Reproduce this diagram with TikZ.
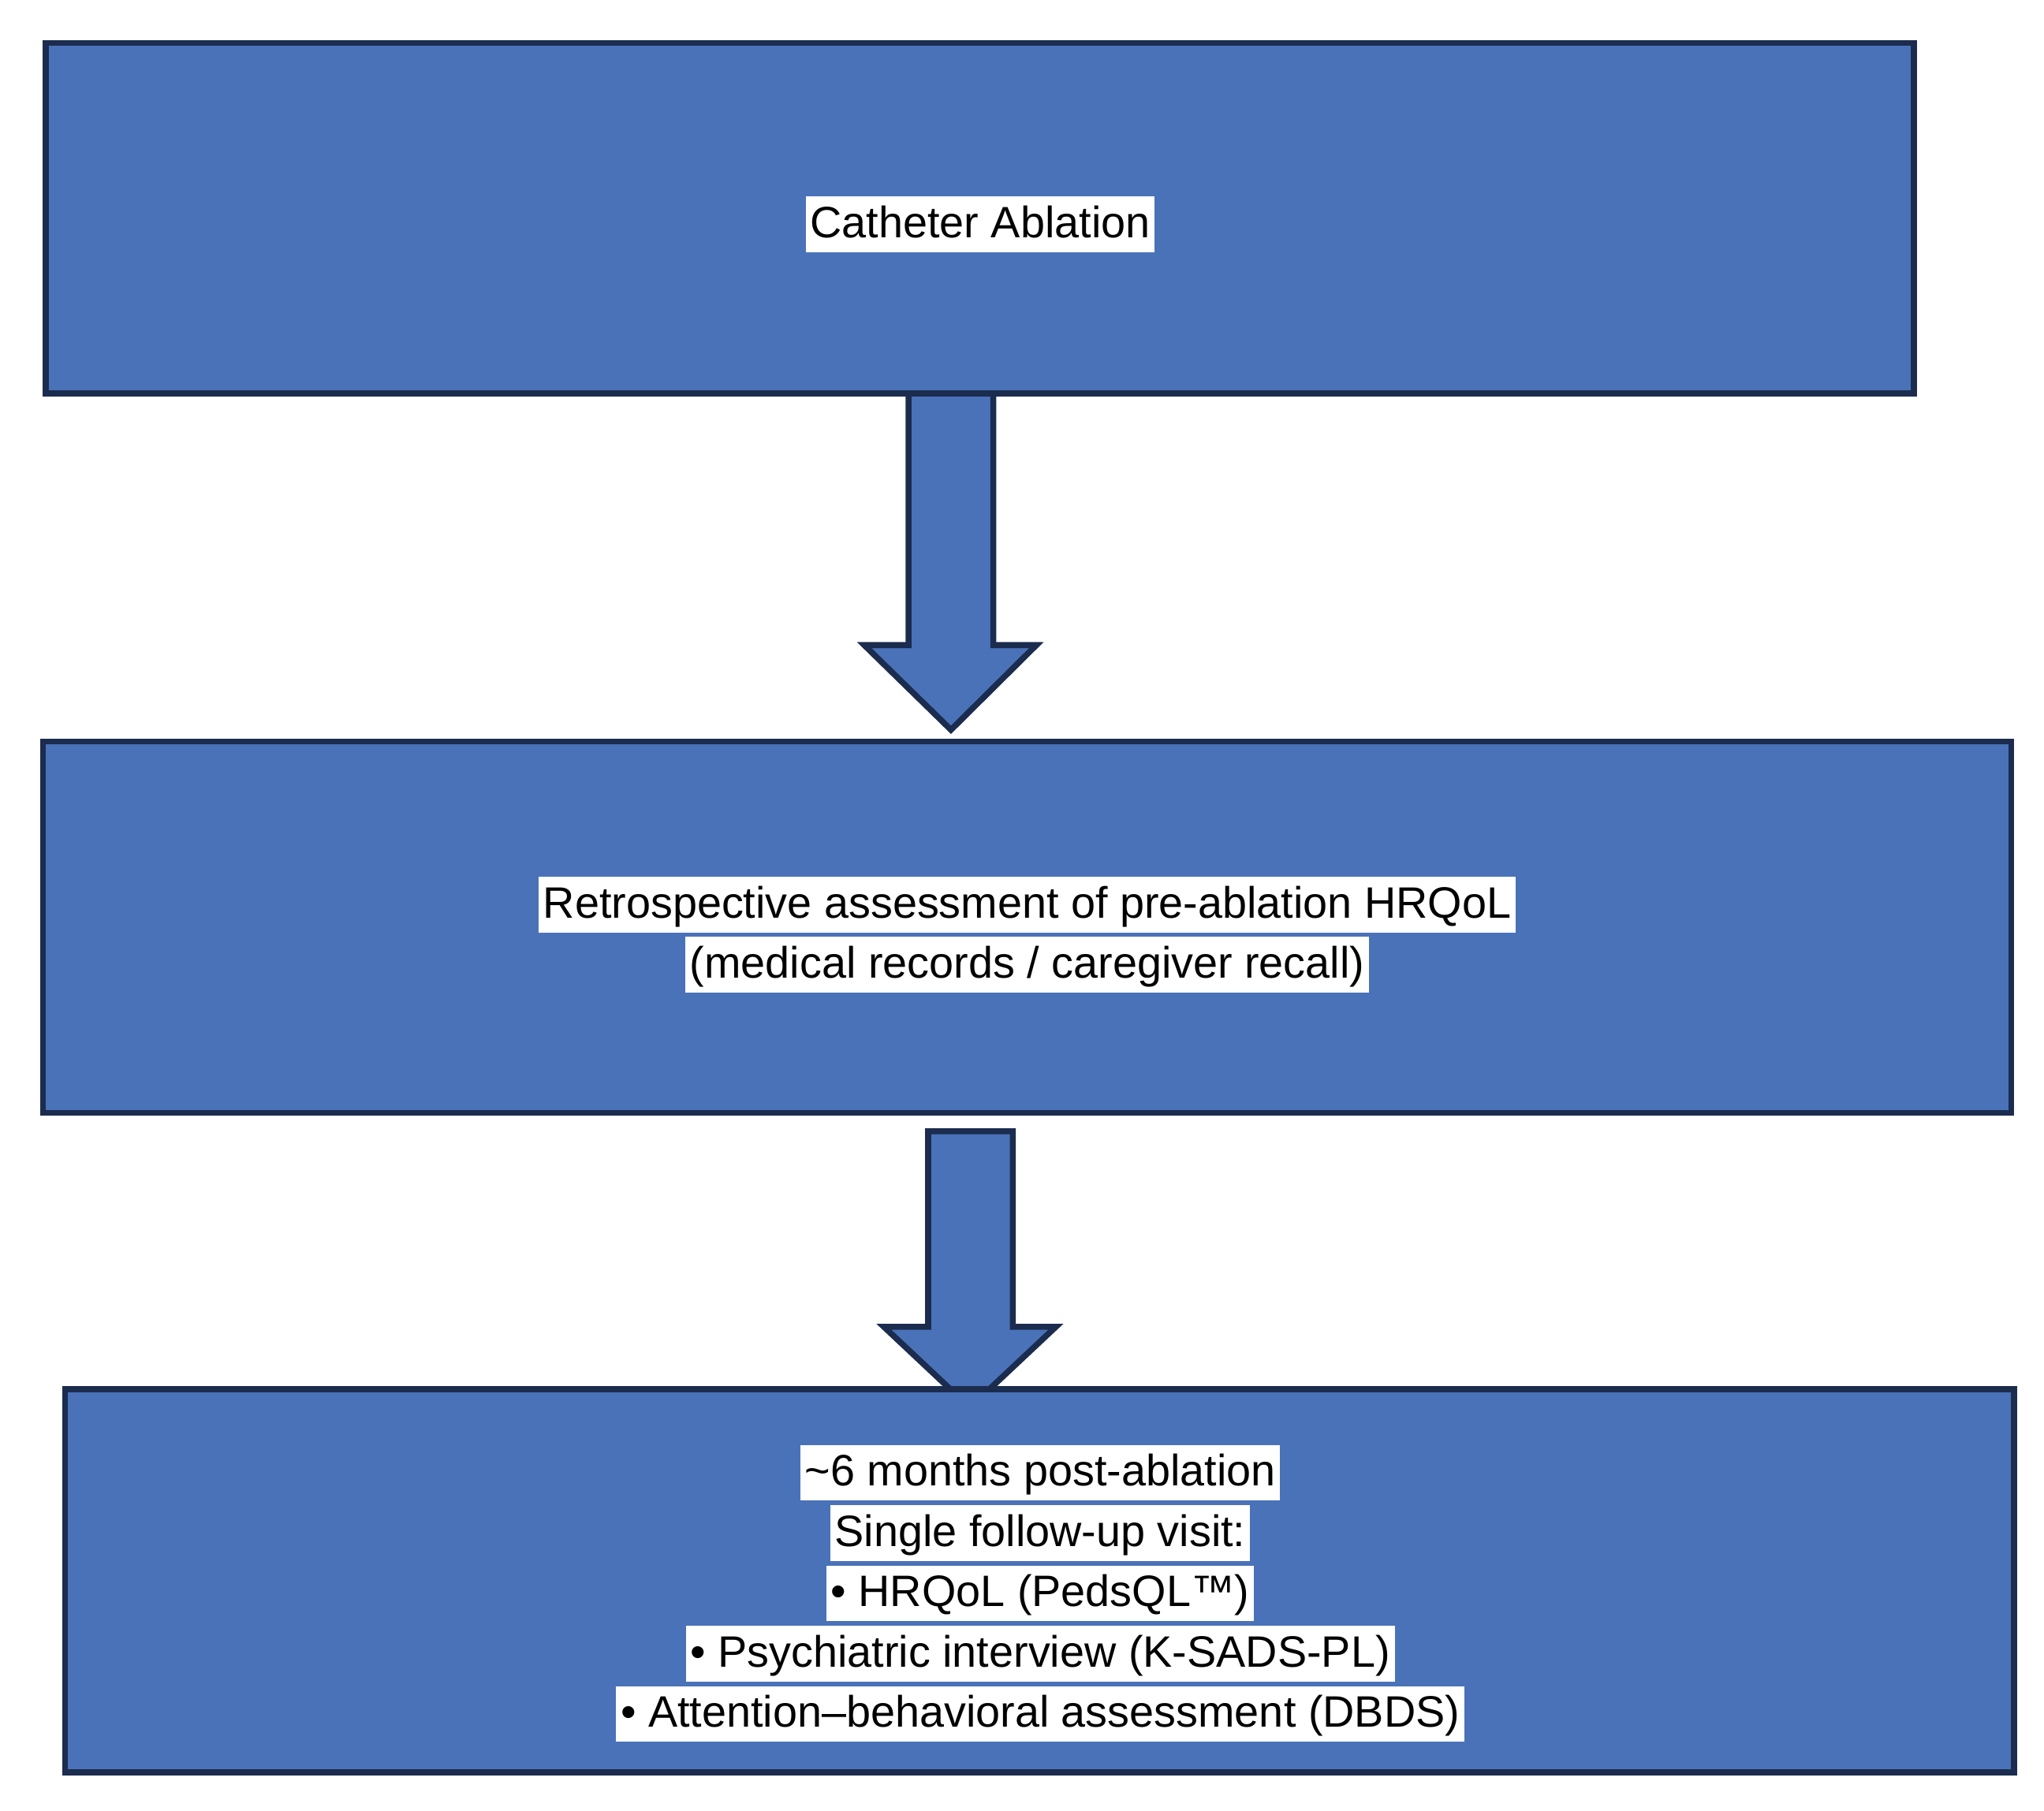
\documentclass[tikz,border=0pt]{standalone}
\usepackage{fontspec}
\setmainfont{Liberation Sans}
\usetikzlibrary{positioning}
\definecolor{boxblue}{HTML}{4A72B8}
\definecolor{edgenavy}{HTML}{1B2C4E}
\tikzset{
  stage/.style={draw=edgenavy, fill=boxblue, line width=1.3pt},
  tag/.style={fill=white, inner sep=1pt, font=\fontsize{9.6}{11}\selectfont, text depth=0.22em, text height=0.8em}
}
\begin{document}
\begin{tikzpicture}
    \useasboundingbox (0,0) rectangle (15.68,13.89);

    %% boxes
    \draw[stage] (0.35,13.56) rectangle (14.68,10.87);
    \draw[stage] (0.33,8.20) rectangle (15.43,5.35);

    %% arrows
    \draw[stage] (6.97,10.87) -- (6.97,8.94) -- (6.63,8.94) -- (7.295,8.29)
        -- (7.95,8.94) -- (7.62,8.94) -- (7.62,10.87) -- cycle;
    \draw[stage] (7.12,5.21) -- (7.12,3.71) -- (6.78,3.71) -- (7.44,3.09)
        -- (8.10,3.71) -- (7.77,3.71) -- (7.77,5.21) -- cycle;

    \draw[stage] (0.50,3.23) rectangle (15.45,0.29);

    %% labels
    \node[tag] (abl) at (7.52,12.17) {Catheter Ablation};

    \node[tag] (retro) at (7.88,6.95) {Retrospective assessment of pre-ablation HRQoL};
    \node[tag, below=0.02cm of retro] (recall) {(medical records / caregiver recall)};

    \node[tag] (month) at (7.98,2.59) {\textasciitilde 6 months post-ablation};
    \node[tag, below=0.02cm of month] (visit) {Single follow-up visit:};
    \node[tag, below=0.02cm of visit] (peds) {• HRQoL (PedsQL™)};
    \node[tag, below=0.02cm of peds] (ksads) {• Psychiatric interview (K-SADS-PL)};
    \node[tag, below=0.02cm of ksads] (dbds) {• Attention–behavioral assessment (DBDS)};
\end{tikzpicture}
\end{document}
